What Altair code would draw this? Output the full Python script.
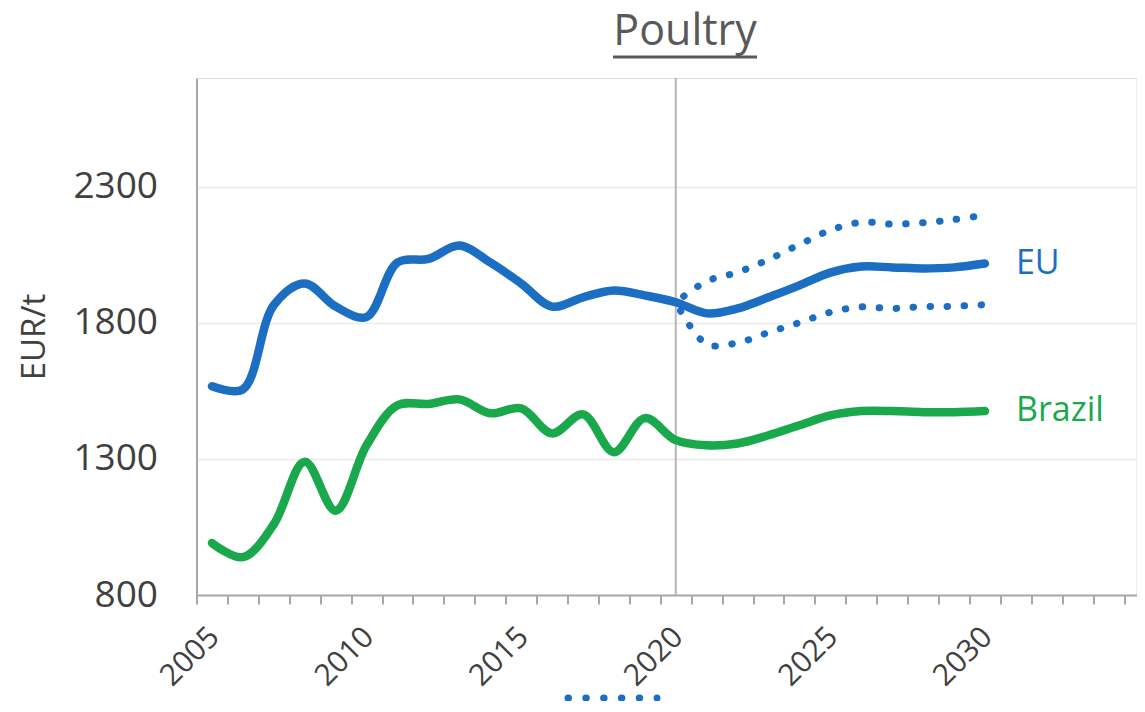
import altair as alt
import pandas as pd

years = list(range(2005, 2031))
eu = [1567, 1556, 1865, 1945, 1860, 1822, 2022, 2035, 2084, 2022, 1945, 1860,
      1894, 1919, 1901, 1876, 1835, 1853, 1894, 1938, 1985, 2007, 2004, 2000,
      2004, 2018]
brazil = [991, 939, 1060, 1290, 1110, 1350, 1497, 1502, 1519, 1468, 1486, 1394,
          1464, 1325, 1450, 1369, 1350, 1357, 1387, 1424, 1460, 1476, 1476, 1472,
          1472, 1476]
proj_years = list(range(2020, 2031))
eu_upper = [1876, 1953, 1986, 2033, 2088, 2141, 2170, 2163, 2168, 2180, 2196]
eu_lower = [1876, 1722, 1727, 1765, 1801, 1839, 1859, 1853, 1860, 1861, 1867]
series_names = ["EU", "Brazil"]
series_colors = ["#1b6ec2", "#19a84c"]
y_ticks = [800, 1300, 1800, 2300]
x_tick_years = [y + 0.5 for y in range(2004, 2035)]

FONT = "Open Sans"
TXT = "#404040"

solid = pd.DataFrame({
    "year": years * 2,
    "value": eu + brazil,
    "series": ["EU"] * len(years) + ["Brazil"] * len(years),
})
band = pd.DataFrame({
    "year": proj_years * 2,
    "value": eu_upper + eu_lower,
    "band": ["upper"] * len(proj_years) + ["lower"] * len(proj_years),
})
ends = pd.DataFrame({
    "year": [years[-1], years[-1]],
    "value": [eu[-1], brazil[-1]],
    "series": series_names,
})
vline = pd.DataFrame({"year": [2020]})
one = pd.DataFrame({"k": [0]})

xscale = alt.Scale(domain=[2004.5, 2004.5 + 940 / 30.92], nice=False, zero=False)
yscale = alt.Scale(domain=[800, 2700], nice=False, zero=False)
xaxis = alt.Axis(
    values=x_tick_years,
    labelExpr="((datum.value + 0.5) % 5 == 0 && datum.value < 2031) ? toString(datum.value + 0.5) : ''",
    labelOffset=17.5,
    labelAngle=-45,
    labelAlign="right",
    labelBaseline="middle",
    labelFont=FONT,
    labelFontSize=30,
    labelColor=TXT,
    labelPadding=28,
    labelOverlap=False,
    labelFlush=False,
    tickSize=9,
    tickWidth=2,
    tickColor="#a8a8a8",
    domainColor="#a8a8a8",
    domainWidth=2,
    grid=False,
    title=None,
)
yaxis = alt.Axis(
    values=y_ticks,
    format="d",
    labelFont=FONT,
    labelFontSize=37,
    labelColor=TXT,
    labelPadding=39,
    ticks=False,
    tickSize=0,
    domainColor="#a8a8a8",
    domainWidth=2,
    grid=True,
    gridColor="#ebebeb",
    gridWidth=1.5,
    title="EUR/t",
    titleFont=FONT,
    titleFontSize=33,
    titleFontWeight="normal",
    titleColor=TXT,
    titleAngle=270,
    titleAlign="center",
    titleBaseline="middle",
    titleX=-162,
    titleY=258.5,
)


def X():
    return alt.X("year:Q", scale=xscale, axis=xaxis)


def Y():
    return alt.Y("value:Q", scale=yscale, axis=yaxis)


color = alt.Color("series:N", scale=alt.Scale(domain=series_names, range=series_colors), legend=None)

rule2020 = alt.Chart(vline).mark_rule(color="#b5b5b5", strokeWidth=2).encode(x=X())

lines = alt.Chart(solid).mark_line(strokeWidth=8.5, interpolate="catmull-rom", strokeCap="round").encode(
    x=X(), y=Y(), color=color, detail="series:N"
)

dots = alt.Chart(band).mark_line(
    strokeWidth=7, interpolate="catmull-rom", strokeDash=[0.5, 16.5], strokeDashOffset=7,
    strokeCap="round", color=series_colors[0]
).encode(x=X(), y=Y(), detail="band:N")

labels = alt.Chart(ends).mark_text(
    align="left", baseline="middle", dx=31, font=FONT, fontSize=34
).encode(x=X(), y=Y(), text="series:N", color=color)

title_txt = alt.Chart(one).mark_text(
    text="Poultry", font=FONT, fontSize=43, color="#595959",
    align="center", baseline="alphabetic"
).encode(x=alt.value(488.5), y=alt.value(-33))

underline = alt.Chart(one).mark_rule(color="#595959", strokeWidth=3).encode(
    x=alt.value(416.5), x2=alt.value(560.5), y=alt.value(-21)
)

legend_dots = alt.Chart(one).mark_rule(
    color=series_colors[0], strokeWidth=7, strokeDash=[0.5, 17.3], strokeCap="round"
).encode(x=alt.value(371.5), x2=alt.value(460.5), y=alt.value(620))

chart = alt.layer(
    rule2020, lines, dots, labels, title_txt, underline, legend_dots
).properties(
    width=940,
    height=517,
    padding={"left": 188.5, "top": 70, "right": 0, "bottom": 106},
    autosize=alt.AutoSizeParams(type="none"),
).configure_view(stroke=None).configure(background="white")

chart.save("out.html", embed_options={"renderer": "svg", "actions": False})
